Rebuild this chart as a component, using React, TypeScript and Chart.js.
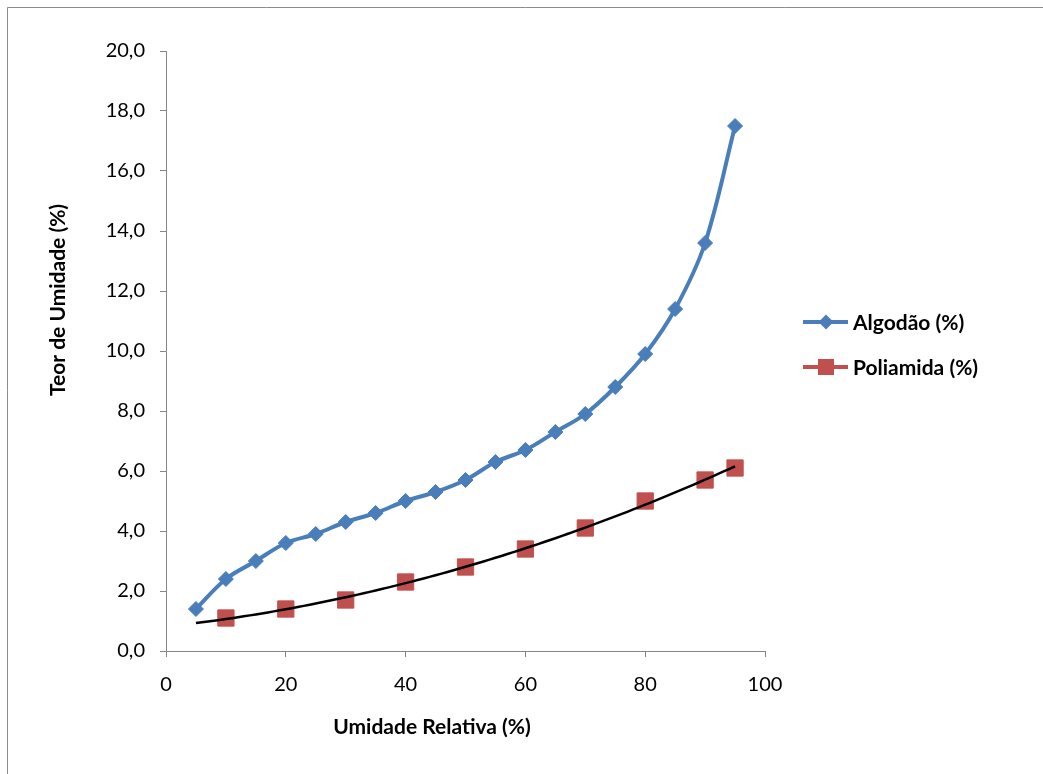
import React, { useEffect, useRef } from "react";
import { Chart, registerables } from "chart.js";

Chart.register(...registerables);

const algodaoX = [5, 10, 15, 20, 25, 30, 35, 40, 45, 50, 55, 60, 65, 70, 75, 80, 85, 90, 95];
const algodaoY = [1.4, 2.4, 3.0, 3.6, 3.9, 4.3, 4.6, 5.0, 5.3, 5.7, 6.3, 6.7, 7.3, 7.9, 8.8, 9.9, 11.4, 13.6, 17.5];
const poliamidaX = [10, 20, 30, 40, 50, 60, 70, 80, 90, 95];
const poliamidaY = [1.1, 1.4, 1.7, 2.3, 2.8, 3.4, 4.1, 5.0, 5.7, 6.1];
const trendRange = [5, 95];
const xTicks = [0, 20, 40, 60, 80, 100];
const yTicks = [0, 2, 4, 6, 8, 10, 12, 14, 16, 18, 20];
const seriesNames = ["Algodão (%)", "Poliamida (%)"];
const xTitle = "Umidade Relativa (%)";
const yTitle = "Teor de Umidade (%)";

const BLUE = "#4A7EBB";
const RED = "#C0504D";
const AXIS = "#868686";
const FONT = "Lato, 'Open Sans', sans-serif";

// Quadratic least-squares trendline (as Excel's polynomial trendline)
function quadFit(xs: number[], ys: number[]) {
  const n = xs.length;
  let s = [0, 0, 0, 0, 0];
  let t = [0, 0, 0];
  for (let i = 0; i < n; i++) {
    const x = xs[i], y = ys[i];
    for (let k = 0; k <= 4; k++) s[k] += Math.pow(x, k);
    for (let k = 0; k <= 2; k++) t[k] += Math.pow(x, k) * y;
  }
  const A = [
    [s[0], s[1], s[2], t[0]],
    [s[1], s[2], s[3], t[1]],
    [s[2], s[3], s[4], t[2]],
  ];
  for (let i = 0; i < 3; i++) {
    let p = i;
    for (let r = i + 1; r < 3; r++) if (Math.abs(A[r][i]) > Math.abs(A[p][i])) p = r;
    [A[i], A[p]] = [A[p], A[i]];
    for (let r = 0; r < 3; r++) {
      if (r === i) continue;
      const f = A[r][i] / A[i][i];
      for (let c = i; c < 4; c++) A[r][c] -= f * A[i][c];
    }
  }
  const c0 = A[0][3] / A[0][0], c1 = A[1][3] / A[1][1], c2 = A[2][3] / A[2][2];
  return (x: number) => c0 + c1 * x + c2 * x * x;
}

export default function App() {
  const ref = useRef<HTMLCanvasElement>(null);
  useEffect(() => {
    document.body.style.margin = "0";
    const f = quadFit(poliamidaX, poliamidaY);
    const trend: { x: number; y: number }[] = [];
    for (let x = trendRange[0]; x <= trendRange[1]; x += 1) trend.push({ x, y: f(x) });

    const extras = {
      id: "extras",
      afterDraw(chart: any) {
        const ctx = chart.ctx;
        const ca = chart.chartArea;
        ctx.save();
        // outer frame
        ctx.strokeStyle = "#8c8c8c";
        ctx.lineWidth = 1;
        ctx.beginPath();
        ctx.moveTo(7.5, chart.height);
        ctx.lineTo(7.5, 7.5);
        ctx.lineTo(chart.width, 7.5);
        ctx.stroke();
        // axis titles
        ctx.fillStyle = "#000";
        ctx.font = `bold 21px ${FONT}`;
        ctx.textAlign = "center";
        ctx.textBaseline = "middle";
        ctx.fillText(xTitle, ca.left + 266, ca.bottom + 76);
        ctx.save();
        ctx.translate(ca.left - 108, ca.top + 249);
        ctx.rotate(-Math.PI / 2);
        ctx.fillText(yTitle, 0, 0);
        ctx.restore();
        // legend
        const lx = ca.right + 38;
        const rows = [ca.top + 271, ca.top + 316];
        const colors = [BLUE, RED];
        rows.forEach((ly, i) => {
          ctx.strokeStyle = colors[i];
          ctx.lineWidth = 4;
          ctx.beginPath();
          ctx.moveTo(lx, ly);
          ctx.lineTo(lx + 45, ly);
          ctx.stroke();
          ctx.fillStyle = colors[i];
          const cx = lx + 23;
          ctx.beginPath();
          if (i === 0) {
            ctx.moveTo(cx - 7.5, ly);
            ctx.lineTo(cx, ly - 7.5);
            ctx.lineTo(cx + 7.5, ly);
            ctx.lineTo(cx, ly + 7.5);
            ctx.closePath();
          } else {
            ctx.rect(cx - 8, ly - 8, 16, 16);
          }
          ctx.fill();
          ctx.fillStyle = "#000";
          ctx.textAlign = "left";
          ctx.fillText(seriesNames[i], lx + 50, ly + 1);
        });
        ctx.restore();
      },
    };

    const chart = new Chart(ref.current!, {
      type: "scatter",
      data: {
        datasets: [
          {
            label: seriesNames[0],
            data: algodaoX.map((x, i) => ({ x, y: algodaoY[i] })),
            showLine: true,
            borderColor: BLUE,
            backgroundColor: BLUE,
            borderWidth: 4,
            tension: 0.35,
            pointStyle: "rectRot",
            pointRadius: 7.5,
            pointBorderWidth: 1,
            pointBorderColor: BLUE,
            pointBackgroundColor: BLUE,
            order: 2,
          },
          {
            label: seriesNames[1],
            data: poliamidaX.map((x, i) => ({ x, y: poliamidaY[i] })),
            showLine: false,
            borderColor: RED,
            backgroundColor: RED,
            pointStyle: "rect",
            pointRadius: 11.5,
            pointBorderWidth: 1,
            pointBorderColor: RED,
            pointBackgroundColor: RED,
            order: 3,
          },
          {
            label: "trend",
            data: trend,
            showLine: true,
            borderColor: "#000",
            borderWidth: 2.5,
            pointRadius: 0,
            tension: 0,
            order: 1,
          },
        ],
      },
      options: {
        animation: false,
        responsive: false,
        layout: { padding: { left: 0, top: 51, right: 278, bottom: 0 } },
        plugins: { legend: { display: false }, tooltip: { enabled: false } },
        scales: {
          x: {
            type: "linear",
            min: 0,
            max: 100,
            afterBuildTicks: (s: any) => { s.ticks = xTicks.map((v) => ({ value: v })); },
            afterFit: (s: any) => { s.height = 123; },
            border: { display: true, color: AXIS, width: 1 },
            grid: { drawOnChartArea: false, drawTicks: true, tickLength: 6, color: AXIS },
            ticks: { color: "#000", font: { family: FONT, size: 20 }, padding: 16, maxRotation: 0 },
          },
          y: {
            type: "linear",
            min: 0,
            max: 20,
            afterBuildTicks: (s: any) => { s.ticks = yTicks.map((v) => ({ value: v })); },
            afterFit: (s: any) => { s.width = 166; },
            border: { display: true, color: AXIS, width: 1 },
            grid: { drawOnChartArea: false, drawTicks: true, tickLength: 6, color: AXIS },
            ticks: {
              color: "#000",
              font: { family: FONT, size: 20 },
              padding: 15,
              callback: (v: any) => Number(v).toFixed(1).replace(".", ","),
            },
          },
        },
      },
      plugins: [extras],
    });
    return () => chart.destroy();
  }, []);
  return <canvas ref={ref} width={1043} height={774} style={{ display: "block" }} />;
}
